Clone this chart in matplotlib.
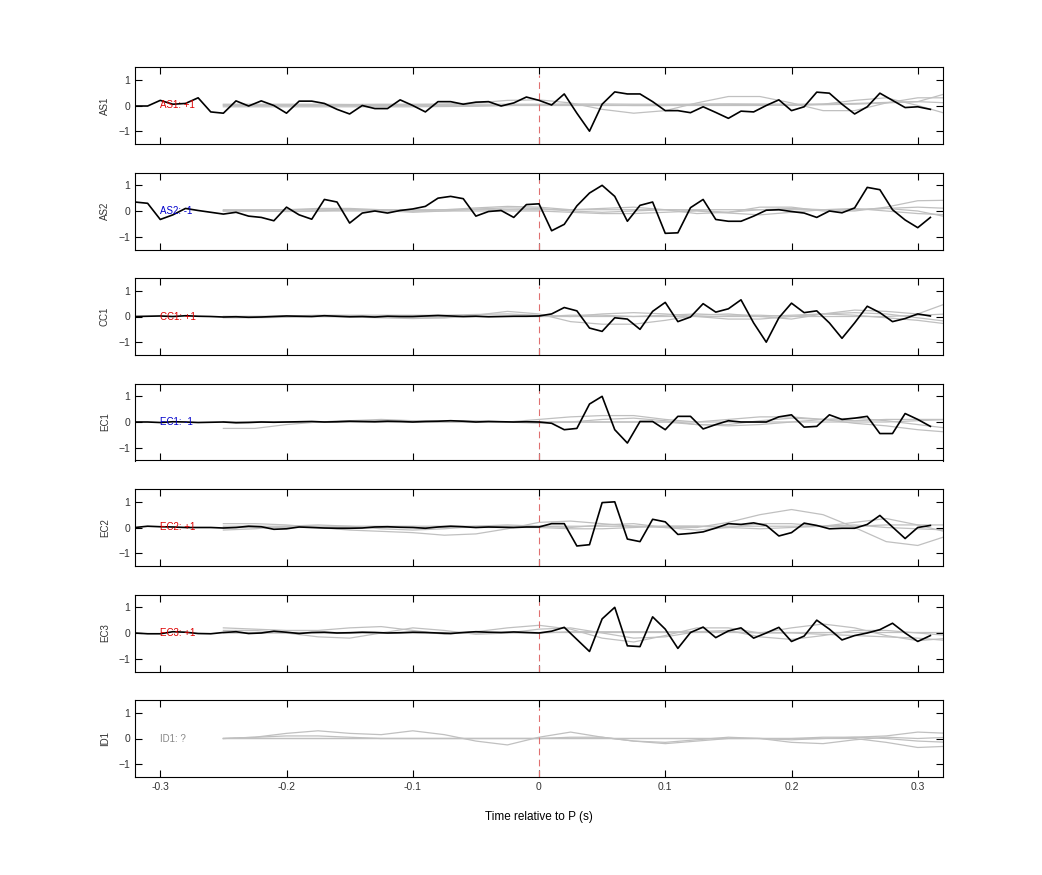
import numpy as np
import matplotlib
matplotlib.use("Agg")
import matplotlib.pyplot as plt

plt.rcParams['font.family'] = ['Liberation Sans', 'DejaVu Sans']

stations = ["AS1", "AS2", "CC1", "EC1", "EC2", "EC3", "ID1"]
labels = ["AS1: +1", "AS2: -1", "CC1: +1", "EC1: -1", "EC2: +1", "EC3: +1", "ID1: ?"]
label_colors = ["#dd0000", "#0000cc", "#dd0000", "#0000cc", "#dd0000", "#dd0000", "#888888"]

t_black = np.round(np.arange(-0.32, 0.315, 0.01), 2)  # 64 samples

black = {
 "AS1": [-0.02,-0.02,0.2,0.05,0.08,0.3,-0.25,-0.3,0.18,-0.02,0.18,0.0,-0.3,0.17,0.17,0.08,-0.15,-0.33,0.0,-0.12,-0.12,0.22,0.0,-0.25,0.15,0.15,0.05,0.13,0.15,-0.02,0.1,0.33,
         0.2,0.02,0.45,-0.3,-1.0,0.05,0.53,0.45,0.45,0.15,-0.2,-0.2,-0.28,-0.05,-0.27,-0.5,-0.22,-0.25,0.0,0.22,-0.2,-0.05,0.52,0.48,0.05,-0.33,-0.05,0.48,0.2,-0.08,-0.05,-0.15],
 "AS2": [0.35,0.3,-0.33,-0.15,0.1,0.02,-0.05,-0.12,-0.05,-0.2,-0.25,-0.38,0.15,-0.15,-0.32,0.45,0.35,-0.47,-0.08,0.0,-0.08,0.02,0.08,0.18,0.5,0.57,0.48,-0.2,-0.02,0.02,-0.25,0.25,
         0.28,-0.77,-0.52,0.2,0.7,1.0,0.57,-0.4,0.22,0.35,-0.87,-0.85,0.13,0.45,-0.33,-0.4,-0.4,-0.2,0.03,0.05,-0.02,-0.08,-0.25,0.0,-0.07,0.12,0.92,0.83,0.05,-0.35,-0.65,-0.25],
 "CC1": [0.0,0.01,0.02,0.0,0.03,0.01,0.0,-0.02,-0.01,-0.03,-0.02,0.0,0.02,0.01,0.0,0.03,0.01,-0.01,0.0,-0.02,0.01,0.0,0.0,0.02,0.04,0.02,0.0,0.01,-0.01,0.0,0.01,0.01,
         0.02,0.1,0.35,0.22,-0.45,-0.58,-0.05,-0.1,-0.5,0.2,0.55,-0.2,-0.02,0.5,0.17,0.3,0.65,-0.25,-1.0,-0.05,0.52,0.15,0.22,-0.25,-0.85,-0.25,0.4,0.15,-0.2,-0.08,0.1,0.02],
 "EC1": [0.0,0.0,-0.02,0.01,0.0,-0.02,-0.01,0.0,-0.03,-0.02,0.0,-0.01,0.0,0.01,0.02,0.0,0.01,0.03,0.02,0.01,0.03,0.02,0.0,0.02,0.03,0.05,0.03,0.0,0.02,0.01,0.0,0.01,
         0.0,-0.05,-0.3,-0.25,0.7,1.0,-0.3,-0.82,0.02,0.02,-0.3,0.22,0.22,-0.27,-0.1,0.05,0.0,0.0,0.0,0.2,0.28,-0.2,-0.17,0.28,0.1,0.15,0.22,-0.45,-0.45,0.33,0.1,-0.17],
 "EC2": [0.0,0.05,0.03,0.02,0.0,0.0,0.0,-0.02,0.0,0.05,0.03,-0.07,-0.05,0.02,0.0,-0.02,-0.03,-0.03,-0.02,0.02,0.03,0.01,0.0,-0.03,0.02,0.05,0.03,0.0,0.02,0.01,0.0,0.02,
         0.02,0.15,0.15,-0.72,-0.67,0.97,1.0,-0.45,-0.55,0.32,0.22,-0.27,-0.23,-0.17,-0.02,0.15,0.12,0.18,0.08,-0.33,-0.2,0.17,0.08,-0.05,-0.03,-0.03,0.12,0.47,0.02,-0.43,0.0,0.08],
 "EC3": [0.0,-0.03,-0.03,0.05,0.03,-0.02,-0.03,0.02,0.05,-0.02,0.0,0.07,0.03,-0.02,0.02,0.03,0.0,0.01,0.03,0.02,0.0,0.01,0.03,0.02,0.0,-0.02,0.02,0.05,0.03,0.02,0.04,0.02,
         0.0,0.07,0.22,-0.25,-0.72,0.55,1.0,-0.5,-0.53,0.63,0.15,-0.6,0.02,0.23,-0.18,0.08,0.2,-0.2,0.0,0.22,-0.33,-0.12,0.5,0.15,-0.27,-0.1,0.0,0.13,0.38,0.0,-0.33,-0.1],
}

t_gray = np.round(np.arange(-0.25, 0.326, 0.025), 3)  # 24 samples

gray = {
 "AS1": [
  [0.02,0.02,0.02,0.02,0.02,0.03,0.03,0.05,0.1,0.2,0.22,0.1,-0.15,-0.3,-0.2,0.1,0.35,0.35,0.1,-0.2,-0.2,0.1,0.3,0.3],
  [-0.05,-0.05,-0.05,-0.05,-0.05,-0.05,-0.05,-0.04,-0.03,0.0,0.02,0.03,0.02,0.0,0.0,0.05,0.05,0.03,0.0,0.05,0.2,0.3,0.0,-0.35],
  [0.05,0.05,0.05,0.05,0.04,0.05,0.05,0.05,0.05,0.05,0.05,0.06,0.06,0.05,0.05,0.05,0.06,0.06,0.05,0.06,0.08,0.12,0.15,0.5],
  [0.0,0.0,0.0,0.0,0.0,0.0,0.0,0.0,0.0,0.0,0.0,0.0,0.0,0.0,0.0,0.0,0.0,0.0,0.02,0.03,0.05,0.1,0.15,0.1]],
 "AS2": [
  [0.02,0.03,0.05,0.1,0.1,0.05,0.0,0.05,0.12,0.18,0.15,0.05,0.1,0.15,0.05,-0.1,-0.05,0.15,0.15,0.0,0.0,0.15,0.4,0.42],
  [0.0,0.0,-0.02,0.0,0.05,0.02,-0.05,0.0,0.08,0.12,0.1,0.0,-0.05,0.0,0.05,0.02,-0.05,0.05,0.1,0.05,0.05,0.1,0.15,0.1],
  [0.05,0.05,0.05,0.05,0.05,0.05,0.05,0.05,0.05,0.05,0.05,0.05,0.05,0.05,0.05,0.05,0.05,0.05,0.05,0.05,0.05,0.1,0.0,-0.25],
  [0.0,0.0,0.0,0.0,0.0,0.0,0.0,0.0,0.0,0.0,0.0,-0.05,-0.1,-0.1,-0.05,0.0,-0.08,-0.15,-0.05,0.05,0.1,0.0,-0.1,-0.15]],
 "CC1": [
  [-0.05,-0.05,-0.03,0.0,0.02,0.0,-0.05,-0.05,0.05,0.2,0.1,-0.2,-0.3,-0.3,-0.15,0.05,0.1,0.0,-0.1,0.1,0.25,0.2,0.1,0.55],
  [0.0,0.0,0.02,0.05,0.05,0.05,0.05,0.05,0.08,0.1,0.05,0.0,0.1,0.15,0.1,0.0,-0.1,-0.1,0.0,0.1,0.05,-0.05,-0.15,-0.3],
  [0.0,0.0,0.0,0.0,0.0,0.0,0.0,0.0,0.0,0.0,0.0,0.0,0.0,0.0,0.0,0.0,0.0,0.0,0.05,0.1,0.15,0.1,-0.05,-0.2],
  [0.0,0.0,0.0,0.0,-0.02,-0.05,-0.08,-0.05,0.0,0.0,0.0,0.05,0.05,0.0,0.05,0.1,0.05,0.05,0.0,0.0,0.0,0.0,0.05,0.1]],
 "EC1": [
  [-0.25,-0.25,-0.1,0.0,0.05,0.1,0.05,0.0,0.0,0.0,0.1,0.2,0.25,0.25,0.1,0.0,0.1,0.2,0.2,0.1,0.05,0.1,0.1,0.1],
  [0.0,0.0,0.0,0.0,0.05,0.05,0.05,0.05,0.05,0.0,-0.05,0.0,0.1,0.15,0.05,-0.1,-0.1,0.05,0.15,0.1,-0.05,-0.15,-0.3,-0.4],
  [0.0,0.0,0.0,0.0,0.0,0.0,0.0,0.0,0.0,0.0,0.0,0.0,0.0,0.0,0.0,-0.1,-0.15,-0.1,0.0,0.1,0.15,0.05,-0.1,-0.25],
  [0.0,0.0,0.0,0.0,0.0,0.0,0.0,0.0,0.0,0.0,0.0,0.0,0.0,0.0,0.0,0.0,0.0,0.0,0.0,0.0,0.0,0.0,0.05,0.1]],
 "EC2": [
  [0.15,0.15,0.1,0.0,-0.1,-0.15,-0.2,-0.3,-0.25,-0.05,0.2,0.25,0.15,0.05,0.0,0.0,0.2,0.5,0.7,0.5,0.0,-0.55,-0.7,-0.3],
  [-0.1,-0.05,0.05,0.1,0.05,-0.05,-0.1,-0.05,0.05,0.1,0.05,0.0,0.1,0.15,0.0,-0.1,0.0,0.15,0.15,0.05,0.2,0.35,0.1,-0.2],
  [0.0,0.0,0.0,0.0,0.0,0.0,0.0,0.0,0.0,0.0,0.0,-0.05,-0.05,0.0,0.05,0.05,0.0,-0.05,0.0,0.05,0.1,0.0,-0.05,-0.1],
  [0.05,0.05,0.05,0.05,0.05,0.05,0.05,0.05,0.05,0.05,0.05,0.05,0.05,0.05,0.05,0.05,0.05,0.05,0.05,0.05,0.05,0.1,0.1,0.1]],
 "EC3": [
  [0.2,0.15,0.1,0.1,0.2,0.25,0.1,-0.05,0.05,0.2,0.3,0.15,-0.2,-0.35,-0.1,0.2,0.2,0.0,0.2,0.35,0.2,-0.1,-0.3,-0.2],
  [0.1,0.1,0.0,-0.15,-0.2,0.0,0.2,0.1,-0.05,0.0,0.15,0.2,0.0,-0.2,-0.15,0.05,0.1,-0.15,-0.25,-0.1,0.1,0.1,0.0,-0.1],
  [0.0,0.0,0.0,0.0,0.0,0.0,0.0,0.0,0.0,0.0,0.0,0.05,0.05,0.05,0.05,0.05,0.05,0.0,0.0,-0.05,-0.1,-0.15,-0.2,-0.3],
  [0.05,0.05,0.05,0.05,0.05,0.05,0.05,0.05,0.05,0.05,0.05,0.05,0.05,0.05,0.05,0.05,0.05,0.05,0.05,0.05,0.05,0.05,0.05,0.05]],
 "ID1": [
  [0.0,0.05,0.2,0.3,0.2,0.15,0.3,0.15,-0.1,-0.25,0.05,0.25,0.05,-0.1,-0.15,-0.05,0.05,0.0,-0.05,0.0,0.05,0.1,0.25,0.2],
  [0.0,0.05,0.1,0.1,0.05,0.0,0.0,0.0,0.0,0.0,0.0,0.05,0.05,-0.1,-0.2,-0.1,0.0,0.0,-0.15,-0.2,-0.05,0.05,0.0,0.05],
  [0.0,0.0,0.0,0.0,0.0,0.0,0.0,0.0,0.0,0.0,0.0,0.0,0.0,0.0,0.0,0.0,0.0,0.0,0.0,0.0,0.0,-0.15,-0.35,-0.3],
  [0.0,0.0,0.0,0.0,0.0,0.0,0.0,0.0,0.0,0.0,0.0,0.0,0.0,0.0,0.0,0.0,0.0,0.0,0.0,0.05,0.05,0.0,-0.1,-0.15]],
}

fig = plt.figure(figsize=(10.42, 8.75), dpi=100)
W, H = 1042, 875
left, right = 135, 943
top0, step, ph = 67, 105.5, 77

for i, st in enumerate(stations):
    top = top0 + step * i
    ax = fig.add_axes([left / W, 1 - (top + ph) / H, (right - left) / W, ph / H])
    for g in gray[st]:
        ax.plot(t_gray, g, color="#c0c0c0", lw=0.9, zorder=1)
    if st in black:
        ax.plot(t_black, black[st], color="black", lw=1.2, zorder=3)
    ax.axvline(0, color="#e07070", lw=0.8, ls=(0, (6, 4)), ymax=0.9, zorder=2)
    ax.text(-0.3, 0, labels[i], color=label_colors[i], fontsize=7, va="center", ha="left", zorder=4)
    ax.set_xlim(-0.32, 0.32)
    ax.set_ylim(-1.5, 1.5)
    ax.set_yticks([-1, 0, 1])
    ax.set_xticks([-0.3, -0.2, -0.1, 0, 0.1, 0.2, 0.3])
    ax.tick_params(direction="in", top=True, right=True, labelsize=7.5, length=5, width=0.8,
                   labelcolor="#333333")
    ax.set_ylabel(st, fontsize=7, labelpad=6, color="#333333")
    for s in ax.spines.values():
        s.set_linewidth(0.8)
    if i < len(stations) - 1:
        ax.set_xticklabels([])
    else:
        ax.set_xticklabels(["-0.3", "-0.2", "-0.1", "0", "0.1", "0.2", "0.3"])
        ax.set_xlabel("Time relative to P (s)", fontsize=8.5, labelpad=14)

fig.savefig("out.png", dpi=100)
